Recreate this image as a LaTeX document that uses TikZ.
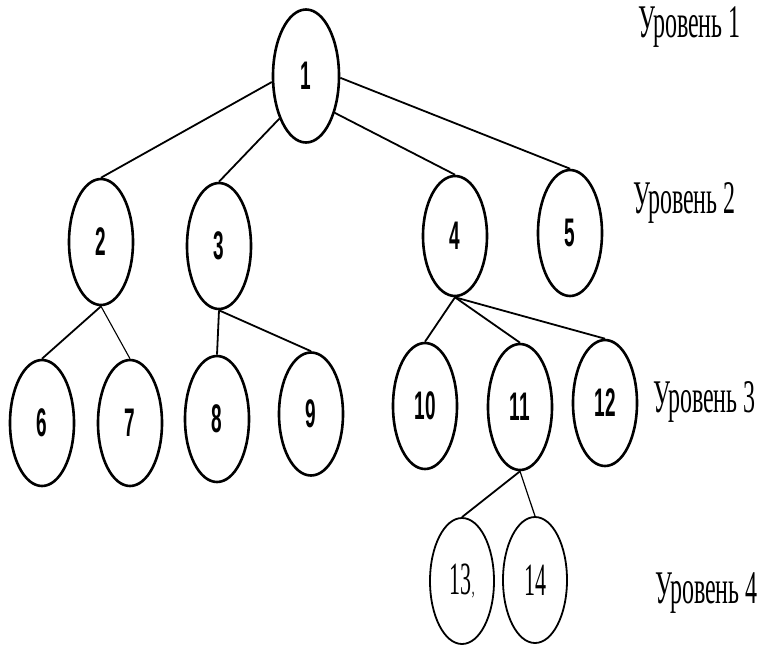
\documentclass[tikz,border=0pt]{standalone}
\usepackage{fontspec}
\setmainfont{Liberation Serif}
\newfontfamily\numfont{Liberation Sans}
\usetikzlibrary{shapes.geometric}
\newcommand{\nm}[1]{\scalebox{1}[2.1]{\fontsize{19}{19}\selectfont\numfont\bfseries #1}}
\newcommand{\sm}[1]{\scalebox{1}[2.1]{\fontsize{22}{22}\selectfont #1}}
\newcommand{\lv}[1]{\scalebox{1}[1.95]{\fontsize{24}{24}\selectfont #1}}
\begin{document}
\begin{tikzpicture}[x=1pt,y=-1pt,
  vtx/.style={ellipse, draw, line width=2.6pt, minimum width=64pt, minimum height=126pt, inner sep=0pt},
  vtxthin/.style={ellipse, draw, line width=1.8pt, minimum width=64pt, minimum height=126pt, inner sep=0pt},
  edge/.style={line width=1.8pt},
  lvl/.style={anchor=base west, inner sep=0pt}]
\fill[white] (0,0) rectangle (763,659);
\useasboundingbox (0,0) rectangle (763,659);

\node[vtx, minimum width=66pt, minimum height=133pt] (n1) at (306,76) {\nm{1}};
\node[vtx] (n2) at (101,242) {\nm{2}};
\node[vtx] (n3) at (219,246) {\nm{3}};
\node[vtx, minimum height=120pt] (n4) at (455,236) {\nm{4}};
\node[vtx] (n5) at (570,233) {\nm{5}};
\node[vtx] (n6) at (42,423) {\nm{6}};
\node[vtx] (n7) at (130,423) {\nm{7}};
\node[vtx] (n8) at (217,419) {\nm{8}};
\node[vtx, minimum height=123pt] (n9) at (311,414) {\nm{9}};
\node[vtx] (n10) at (425,406) {\nm{10}};
\node[vtx] (n11) at (520,407) {\nm{11}};
\node[vtx] (n12) at (605,403) {\nm{12}};
\node[vtxthin] (n13) at (462,581) {\sm{13\kern0.5pt{\fontsize{11}{11}\selectfont,}}};
\node[vtxthin] (n14) at (535,580) {\sm{14}};

\draw[edge] (n1.190) -- (n2.north);
\draw[edge] (n1.238) -- (n3.north);
\draw[edge] (n1.308) -- (n4.north);
\draw[edge] (n1.357) -- (n5.north);

\draw[edge] (n2.south) -- (n6.north);
\draw[edge, line width=1.1pt] (n2.south) -- (n7.north);
\draw[edge] (n3.south) -- (n8.north);
\draw[edge] (n3.south) -- (n9.north);
\draw[edge] (n4.south) -- (n10.north);
\draw[edge] (n4.south) -- (n11.north);
\draw[edge] (n4.south) -- (n12.north);
\draw[edge] (n11.south) -- (n13.north);
\draw[edge, line width=1.2pt] (n11.south) -- (n14.north);

\node[lvl] (l1) at (638,37) {\lv{Уровень 1}};
\node[lvl] (l2) at (633,213) {\lv{Уровень 2}};
\node[lvl] (l3) at (653,412) {\lv{Уровень 3}};
\node[lvl] (l4) at (655,603) {\lv{Уровень 4}};
\end{tikzpicture}
\end{document}
